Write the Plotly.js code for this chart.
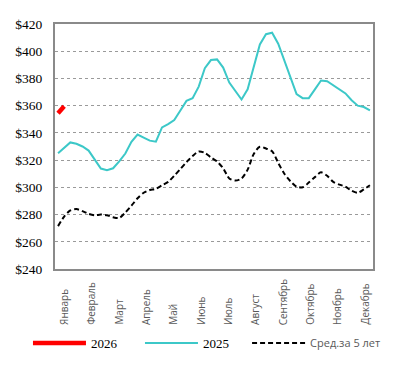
<!DOCTYPE html>
<html>
<head>
<meta charset="utf-8">
<script src="https://cdn.plot.ly/plotly-3.0.1.min.js"></script>
<style>html,body{margin:0;padding:0;background:#fff;}#chart{width:399px;height:381px;}</style>
</head>
<body>
<div id="chart"></div>
<script>
// Week numbers (category positions)
var weeks = [1,2,3,4,5,6,7,8,9,10,11,12,13,14,15,16,17,18,19,20,21,22,23,24,25,26,
             27,28,29,30,31,32,33,34,35,36,37,38,39,40,41,42,43,44,45,46,47,48,49,50,51,52];
// 2026 (so far)
var weeks2026 = [1,2];
var values2026 = [354.5, 359.5];
// 2025
var values2025 = [325,329,333,332,330,327,320.5,313.8,312.5,314,319,324.8,333.5,338.8,336.5,334.3,
                  333.5,344,346.5,349.5,356.5,363.5,365.5,374,387.5,393.5,394,388,377,370.5,364.5,372,
                  389,405,412.5,413.6,405.5,393,380.5,368.5,365.5,365.5,372,378.5,378,375,372,369,
                  364,360,359,356.5];
// 5-year average
var valuesAvg = [271.5,278.5,283,284,282.5,280.5,279.5,280,279.5,278,277.5,281.5,286.5,292,296,298,
                 299,301.5,304,308.5,313.5,318.5,323,326.3,325.3,322,319,314,306.5,305,306.5,313,
                 324.5,329.8,328.5,326.5,318,310,304.5,300.5,300,303.5,307.5,311,308.5,304,302,300.5,
                 297.5,296,298.5,301.5];
// Month labels and their positions on the week axis
var months = ['Январь','Февраль','Март','Апрель','Май','Июнь','Июль','Август','Сентябрь','Октябрь','Ноябрь','Декабрь'];
var monthPos = [1.98,6.45,10.93,15.4,19.88,24.35,28.83,33.3,37.78,42.25,46.73,51.2];
var yTicks = [240,260,280,300,320,340,360,380,400,420];
var yTickText = ['$240','$260','$280','$300','$320','$340','$360','$380','$400','$420'];
var names = ['2026','2025','Сред.за 5 лет'];

var traces = [
  {x: weeks2026, y: values2026, name: names[0], type:'scatter', mode:'lines', legend:'legend',
   line:{color:'#ff0000', width:4.5}},
  {x: weeks, y: values2025, name: names[1], type:'scatter', mode:'lines', legend:'legend',
   line:{color:'#3cc8c8', width:2}},
  {x: weeks, y: valuesAvg, name: names[2], type:'scatter', mode:'lines', legend:'legend2',
   line:{color:'#000000', width:2, dash:'5px,3px', shape:'spline', smoothing:0.8}}
];

var annotations = months.map(function(m, i){
  return {x: monthPos[i], xref:'x', y: -0.232, yref:'paper', text: m, showarrow:false,
          textangle:-90, xanchor:'center', yanchor:'bottom', borderpad:0,
          font:{family:'Open Sans', size:10, color:'#595959'}};
});

var layout = {
  width:399, height:381,
  margin:{l:55, r:26, t:24, b:112},
  paper_bgcolor:'#ffffff', plot_bgcolor:'#ffffff',
  showlegend:true,
  legend:{orientation:'h', x:-0.085, xanchor:'left', y:-0.302, yanchor:'middle',
          font:{family:'Liberation Serif', size:13, color:'#000000'},
          itemwidth:53, entrywidth:44, traceorder:'normal'},
  legend2:{orientation:'h', x:0.604, xanchor:'left', y:-0.302, yanchor:'middle',
          font:{family:'Open Sans', size:11, color:'#595959'},
          itemwidth:53, traceorder:'normal'},
  xaxis:{range:[0.5,52.5], showticklabels:false, ticks:'', showgrid:false, zeroline:false,
         showline:true, mirror:true, linecolor:'#8a8a8a', linewidth:2, fixedrange:true},
  yaxis:{range:[240,420], tickvals:yTicks, ticktext:yTickText, ticks:'', showgrid:true,
         gridcolor:'#9a9a9a', gridwidth:1, griddash:'dot', zeroline:false,
         showline:true, mirror:true, linecolor:'#8a8a8a', linewidth:2,
         ticklabelstandoff:8,
         tickfont:{family:'Liberation Serif', size:13.5, color:'#000000'}},
  annotations: annotations
};

Plotly.newPlot('chart', traces, layout, {staticPlot:true, displayModeBar:false});
</script>
</body>
</html>
